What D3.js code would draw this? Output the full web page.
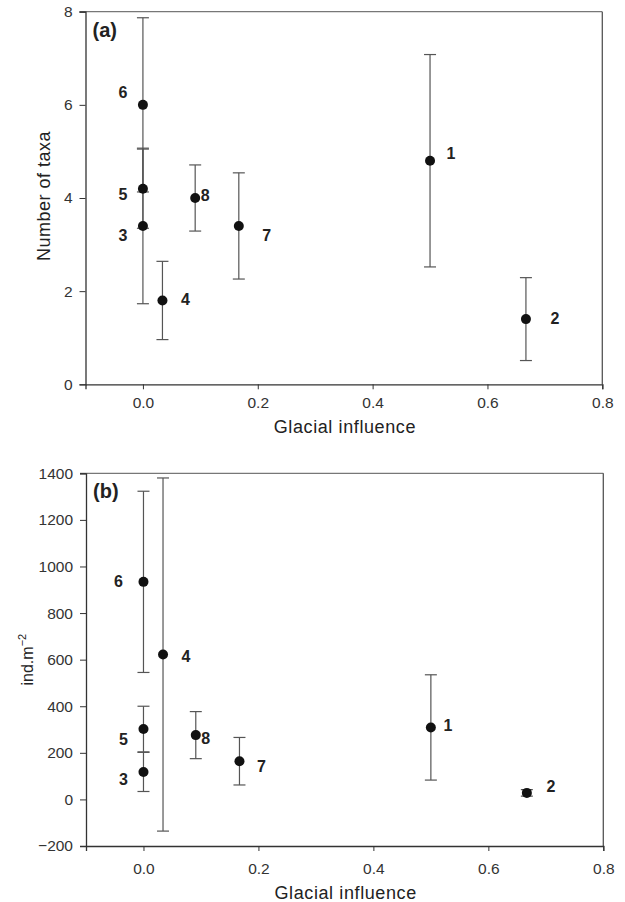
<!DOCTYPE html>
<html>
<head>
<meta charset="utf-8">
<script src="https://cdn.jsdelivr.net/npm/d3@7"></script>
<style>
  body { margin: 0; background: #fff; }
  svg { display: block; font-family: "Liberation Sans", Arial, sans-serif; }
  .axis path, .axis line { stroke: #333; }
  .axis text { fill: #333; font-size: 15.5px; }
</style>
</head>
<body>
<script>
// Sites and their glacial influence
var sites = ["1", "2", "3", "4", "5", "6", "7", "8"];
var glacial = [0.5, 0.667, 0, 0.034, 0, 0, 0.167, 0.091];

// (a) number of taxa: mean and error
var taxaMean = [4.8, 1.4, 3.4, 1.8, 4.2, 6.0, 3.4, 4.0];
var taxaErr = [2.28, 0.89, 1.67, 0.84, 0.85, 1.87, 1.14, 0.71];

// (b) density, ind.m-2: mean and error
var densMean = [309, 28, 118, 622, 302, 934, 164, 276];
var densErr = [226, 14, 84, 758, 98, 389, 102, 101];

// tick values
var xTicks = [0, 0.2, 0.4, 0.6, 0.8];
var taxaTicks = [0, 2, 4, 6, 8];
var densTicks = [-200, 0, 200, 400, 600, 800, 1000, 1200, 1400];

// label offsets next to each point (layout only)
var taxaLabelOff = [[21, -7], [29, -1], [-20, 10], [23, -1], [-20, 6], [-20, -12], [28, 10], [10, -3]];
var densLabelOff = [[17, -2], [24, -6], [-20, 8], [23, 2], [-20, 10], [-25, 0], [22, 5], [10, 3]];

var svgWidth = 625;
var svgHeight = 902;

var svg = d3.select("body")
  .append("svg")
  .attr("width", svgWidth)
  .attr("height", svgHeight);

function buildPanel(opt) {
  var xScale = d3.scaleLinear().domain([-0.1, 0.8]).range([opt.left, opt.right]);
  var yScale = d3.scaleLinear().domain(opt.yDomain).range([opt.bottom, opt.top]);

  var g = svg.append("g");

  // frame: top and right
  g.append("line")
    .attr("x1", opt.left - 6).attr("x2", opt.right)
    .attr("y1", opt.top).attr("y2", opt.top)
    .attr("stroke", "#777").attr("stroke-width", 1.3);
  g.append("line")
    .attr("x1", opt.right).attr("x2", opt.right)
    .attr("y1", opt.top).attr("y2", opt.bottom)
    .attr("stroke", "#555").attr("stroke-width", 1.3);

  g.append("g")
    .classed("axis", true)
    .attr("transform", "translate(" + opt.left + ",0)")
    .call(d3.axisLeft(yScale).tickValues(opt.yTicks).tickSizeOuter(0).tickSize(6).tickPadding(7)
      .tickFormat(d3.format("d")))
    .call(s => s.select(".domain").attr("stroke-width", 1.3));

  g.append("g")
    .classed("axis", true)
    .attr("transform", "translate(0," + opt.bottom + ")")
    .call(d3.axisBottom(xScale).tickValues(xTicks).tickSizeOuter(0).tickSize(5).tickPadding(opt.xPad)
      .tickFormat(d3.format(".1f")))
    .call(s => s.select(".domain").attr("stroke-width", 1.3));

  // error bars
  var bars = g.append("g").attr("stroke", "#555").attr("stroke-width", 1.2);
  sites.forEach(function(s, i) {
    var x = xScale(glacial[i]);
    var y0 = yScale(opt.mean[i] - opt.err[i]);
    var y1 = yScale(opt.mean[i] + opt.err[i]);
    bars.append("line").attr("x1", x).attr("x2", x).attr("y1", y0).attr("y2", y1);
    bars.append("line").attr("x1", x - 6).attr("x2", x + 6).attr("y1", y0).attr("y2", y0);
    bars.append("line").attr("x1", x - 6).attr("x2", x + 6).attr("y1", y1).attr("y2", y1);
  });

  // points
  g.selectAll("circle.pt")
    .data(sites)
    .enter()
    .append("circle")
    .attr("cx", (d, i) => xScale(glacial[i]))
    .attr("cy", (d, i) => yScale(opt.mean[i]))
    .attr("r", 5)
    .attr("fill", "#111");

  // site labels
  g.selectAll("text.site")
    .data(sites)
    .enter()
    .append("text")
    .attr("x", (d, i) => xScale(glacial[i]) + opt.labelOff[i][0])
    .attr("y", (d, i) => yScale(opt.mean[i]) + opt.labelOff[i][1])
    .attr("text-anchor", "middle")
    .attr("dominant-baseline", "central")
    .attr("font-size", 16)
    .attr("font-weight", "bold")
    .attr("fill", "#222")
    .text(d => d);

  // panel letter
  g.append("text")
    .attr("x", opt.left + 7)
    .attr("y", opt.top + 25)
    .attr("font-size", 20)
    .attr("font-weight", "bold")
    .attr("fill", "#222")
    .text(opt.letter);

  // x title
  g.append("text")
    .attr("x", (opt.left + opt.right) / 2 + 1)
    .attr("y", opt.xTitleY)
    .attr("text-anchor", "middle")
    .attr("font-size", 18)
    .attr("letter-spacing", 0.6)
    .attr("fill", "#222")
    .text("Glacial influence");

  return { g: g, yMid: (opt.top + opt.bottom) / 2 };
}

var pa = buildPanel({
  left: 85.5, right: 602.3, top: 11.7, bottom: 384.3,
  yDomain: [0, 8], yTicks: taxaTicks, mean: taxaMean, err: taxaErr,
  labelOff: taxaLabelOff, letter: "(a)", xPad: 8, xTitleY: 433
});

pa.g.append("text")
  .attr("transform", "translate(50," + (pa.yMid - 2) + ") rotate(-90)")
  .attr("text-anchor", "middle")
  .attr("font-size", 18)
  .attr("letter-spacing", 0.5)
  .attr("fill", "#222")
  .text("Number of taxa");

var pb = buildPanel({
  left: 86, right: 603.3, top: 473.3, bottom: 846,
  yDomain: [-200, 1400], yTicks: densTicks, mean: densMean, err: densErr,
  labelOff: densLabelOff, letter: "(b)", xPad: 12, xTitleY: 899
});

var yt = pb.g.append("text")
  .attr("transform", "translate(33," + pb.yMid + ") rotate(-90)")
  .attr("text-anchor", "middle")
  .attr("font-size", 16)
  .attr("fill", "#222");
yt.append("tspan").text("ind.m");
yt.append("tspan").attr("font-size", 11).attr("dy", -7).text("\u22122");
</script>
</body>
</html>
